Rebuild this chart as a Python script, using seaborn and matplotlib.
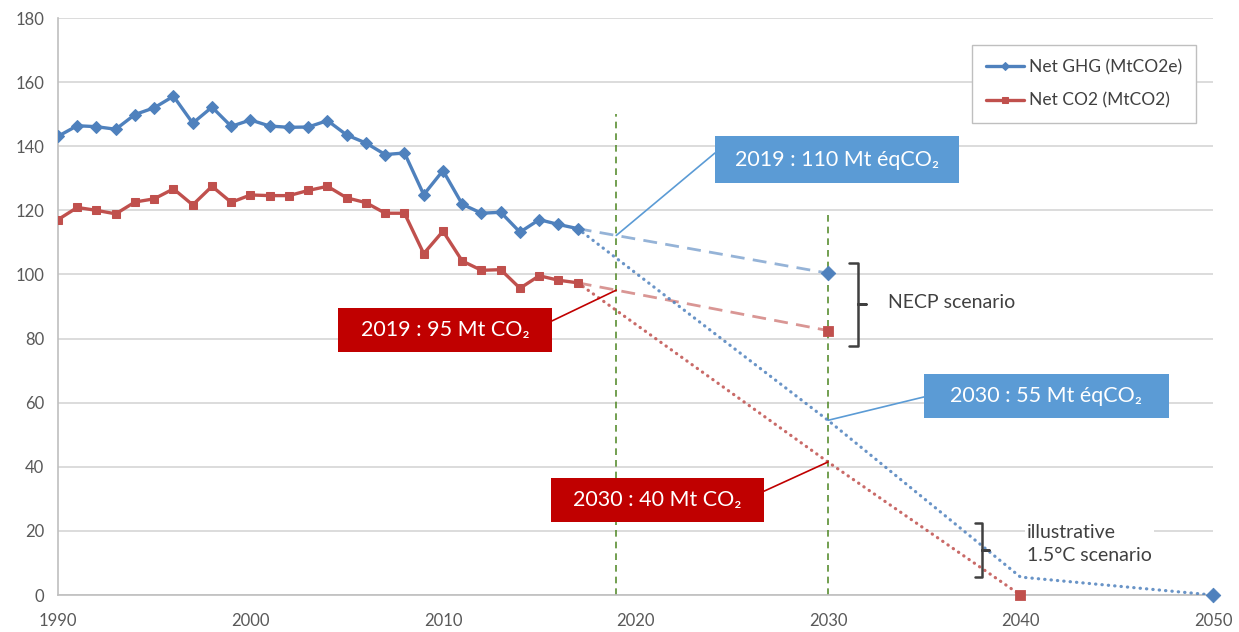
import numpy as np
import matplotlib
matplotlib.use("Agg")
import matplotlib.pyplot as plt
from matplotlib.patches import Rectangle
import seaborn as sns

# historical series
years = list(range(1990, 2018))
net_ghg = [143.1, 146.4, 146.1, 145.3, 149.9, 152.0, 155.6, 147.2, 152.2, 146.2,
           148.2, 146.3, 145.9, 146.0, 148.0, 143.5, 141.0, 137.4, 137.9, 124.9,
           132.4, 121.9, 119.1, 119.4, 113.2, 117.1, 115.6, 114.3]
net_co2 = [117.1, 120.9, 120.0, 118.9, 122.6, 123.6, 126.7, 121.7, 127.5, 122.5,
           124.8, 124.6, 124.6, 126.2, 127.5, 123.9, 122.4, 119.1, 119.1, 106.5,
           113.5, 104.2, 101.3, 101.5, 95.7, 99.6, 98.2, 97.4]

# NECP scenario
necp_years = [2017, 2030]
necp_ghg = [114.3, 100.4]
necp_co2 = [97.4, 82.5]

# illustrative 1.5°C scenario
sc15_ghg_years = [2017, 2030, 2040, 2050]
sc15_ghg = [114.3, 54.5, 5.6, 0.0]
sc15_co2_years = [2017, 2030, 2040]
sc15_co2 = [97.4, 41.5, 0.0]

milestones = [2019, 2030]
labels = ["Net GHG (MtCO2e)", "Net CO2 (MtCO2)"]

BLUE = "#4F81BD"
RED = "#C0504D"
BOX_BLUE = "#5B9BD5"
BOX_RED = "#C00000"
GREEN = "#5A8F32"
TXT = "#404040"

sns.set_style("white")
plt.rcParams["font.family"] = ["Lato", "DejaVu Sans"]

fig = plt.figure(figsize=(12.39, 6.32), dpi=100)
ax = fig.add_axes([0.0468, 0.0585, 0.9322, 0.913])

# historical lines
sns.lineplot(x=years, y=net_ghg, color=BLUE, marker="D", markersize=6,
             markeredgecolor=BLUE, linewidth=2.4, label=labels[0], ax=ax, zorder=4)
sns.lineplot(x=years, y=net_co2, color=RED, marker="s", markersize=6,
             markeredgecolor=RED, linewidth=2.4, label=labels[1], ax=ax, zorder=4)

# NECP projections (dashed)
sns.lineplot(x=necp_years, y=necp_ghg, color=BLUE, alpha=0.6, linewidth=2,
             linestyle=(0, (5, 3)), ax=ax, zorder=3)
sns.lineplot(x=necp_years, y=necp_co2, color=RED, alpha=0.6, linewidth=2,
             linestyle=(0, (5, 3)), ax=ax, zorder=3)

# 1.5°C projections (dotted)
sns.lineplot(x=sc15_ghg_years, y=sc15_ghg, color=BLUE, alpha=0.85, linewidth=2.3,
             linestyle=(0, (0.1, 1.9)), dash_capstyle="round", ax=ax, zorder=3)
sns.lineplot(x=sc15_co2_years, y=sc15_co2, color=RED, alpha=0.85, linewidth=2.3,
             linestyle=(0, (0.1, 1.9)), dash_capstyle="round", ax=ax, zorder=3)

# end markers
for xs, ys, mk, col in [(necp_years, necp_ghg, "D", BLUE), (necp_years, necp_co2, "s", RED),
                        (sc15_ghg_years, sc15_ghg, "D", BLUE),
                        (sc15_co2_years, sc15_co2, "s", RED)]:
    sns.scatterplot(x=xs[-1:], y=ys[-1:], marker=mk, color=col, s=55,
                    edgecolor=col, ax=ax, zorder=5, clip_on=False)

# green vertical markers for 2019 and 2030
for yr, top in zip(milestones, [150, 120]):
    ax.plot([yr, yr], [0, top], color=GREEN, lw=1.2, ls=(0, (4, 3)), zorder=2)

# callout boxes
ghg_2019 = np.interp(2019, necp_years, necp_ghg)
co2_2019 = np.interp(2019, necp_years, necp_co2)
ghg_2030 = np.interp(2030, sc15_ghg_years, sc15_ghg)
co2_2030 = np.interp(2030, sc15_co2_years, sc15_co2)

# text, colour, box (x0, x1, y0, y1), connector start, connector end
callouts = [
    ("2019 : 110 Mt éqCO₂", BOX_BLUE, (2024.13, 2036.81, 128.5, 143.2),
     (2024.13, 137.9), (2019, ghg_2019)),
    ("2019 : 95 Mt CO₂", BOX_RED, (2004.55, 2015.66, 75.8, 89.5),
     (2015.66, 85.5), (2019, co2_2019)),
    ("2030 : 55 Mt éqCO₂", BOX_BLUE, (2034.99, 2047.71, 55.2, 69.0),
     (2034.99, 61.8), (2030, ghg_2030)),
    ("2030 : 40 Mt CO₂", BOX_RED, (2015.61, 2026.68, 22.8, 36.5),
     (2026.68, 32.4), (2030, co2_2030)),
]
for text, col, (x0, x1, y0, y1), start, end in callouts:
    ax.plot([start[0], end[0]], [start[1], end[1]], color=col, lw=1.2, zorder=6)
    ax.add_patch(Rectangle((x0, y0), x1 - x0, y1 - y0, fc=col, ec="none", zorder=7))
    ax.text((x0 + x1) / 2, (y0 + y1) / 2, text, ha="center", va="center",
            color="white", fontsize=15.5, zorder=8)

# brackets
def bracket(x, top, bot, w=0.45, t=0.4):
    mid = (top + bot) / 2
    ax.plot([x - w, x, x, x + t, x, x, x - w],
            [top, top, mid, mid, mid, bot, bot],
            color=TXT, lw=1.8, solid_joinstyle="round", zorder=6)

bracket(2031.56, 103.6, 77.7)
ax.text(2033.1, 91.1, "NECP scenario", fontsize=14, color=TXT, va="center", ha="left")
bracket(2038.0, 22.4, 5.7, w=0.35, t=0.35)
ax.text(2040.34, 15.9, "illustrative\n1.5°C scenario", fontsize=14, color=TXT,
        va="center", ha="left", linespacing=1.45,
        bbox=dict(boxstyle="square,pad=0.1", fc="white", ec="none"))

# axes styling
ax.set_xlim(1990, 2050)
ax.set_ylim(0, 180)
ax.set_xticks(range(1990, 2051, 10))
ax.set_yticks(range(0, 181, 20))
ax.yaxis.grid(True, color="#D9D9D9", lw=1.3)
ax.xaxis.grid(False)
ax.set_axisbelow(True)
for s in ["top", "right"]:
    ax.spines[s].set_visible(False)
for s in ["left", "bottom"]:
    ax.spines[s].set_color("#BFBFBF")
    ax.spines[s].set_linewidth(1.2)
ax.tick_params(axis="both", length=4, color="#BFBFBF", labelcolor="#595959",
               labelsize=12)
ax.tick_params(axis="x", pad=9)
ax.tick_params(axis="y", pad=6)
ax.set_xlabel("")
ax.set_ylabel("")

handles, labs = ax.get_legend_handles_labels()
leg = ax.legend(handles[:2], labs[:2], loc="upper right", bbox_to_anchor=(0.993, 0.968),
                frameon=True, fancybox=False, edgecolor="#BFBFBF", fontsize=12.5,
                handlelength=2.2, borderpad=0.8, labelspacing=1.0, handletextpad=0.3,
                framealpha=1)
for t in leg.get_texts():
    t.set_color(TXT)
for h in leg.legend_handles:
    h.set_markersize(4)

fig.savefig("out.png", dpi=100)
